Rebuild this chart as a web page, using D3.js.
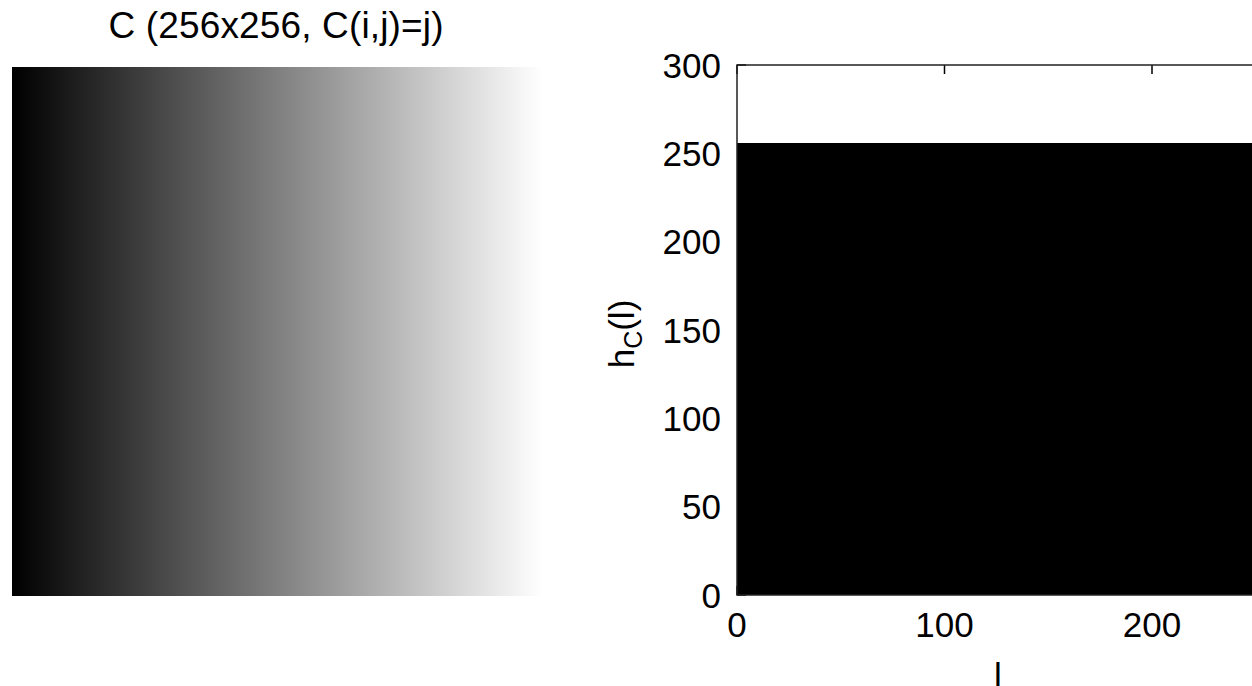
<!DOCTYPE html>
<html>
<head>
<meta charset="utf-8">
<script src="https://cdn.jsdelivr.net/npm/d3@7"></script>
<style>
  html, body { margin: 0; padding: 0; background: #fff; overflow: hidden; }
  svg { display: block; font-family: "Liberation Sans", Arial, sans-serif; }
</style>
</head>
<body>
<div id="chart"></div>
<script>
// grey levels of the image columns, C(i,j) = j
var levels = [
  0,1,2,3,4,5,6,7,8,9,10,11,12,13,14,15,
  16,17,18,19,20,21,22,23,24,25,26,27,28,29,30,31,
  32,33,34,35,36,37,38,39,40,41,42,43,44,45,46,47,
  48,49,50,51,52,53,54,55,56,57,58,59,60,61,62,63,
  64,65,66,67,68,69,70,71,72,73,74,75,76,77,78,79,
  80,81,82,83,84,85,86,87,88,89,90,91,92,93,94,95,
  96,97,98,99,100,101,102,103,104,105,106,107,108,109,110,111,
  112,113,114,115,116,117,118,119,120,121,122,123,124,125,126,127,
  128,129,130,131,132,133,134,135,136,137,138,139,140,141,142,143,
  144,145,146,147,148,149,150,151,152,153,154,155,156,157,158,159,
  160,161,162,163,164,165,166,167,168,169,170,171,172,173,174,175,
  176,177,178,179,180,181,182,183,184,185,186,187,188,189,190,191,
  192,193,194,195,196,197,198,199,200,201,202,203,204,205,206,207,
  208,209,210,211,212,213,214,215,216,217,218,219,220,221,222,223,
  224,225,226,227,228,229,230,231,232,233,234,235,236,237,238,239,
  240,241,242,243,244,245,246,247,248,249,250,251,252,253,254,255
];
// histogram counts h_C(l): every level occurs 256 times
var counts = [
  256,256,256,256,256,256,256,256,256,256,256,256,256,256,256,256,
  256,256,256,256,256,256,256,256,256,256,256,256,256,256,256,256,
  256,256,256,256,256,256,256,256,256,256,256,256,256,256,256,256,
  256,256,256,256,256,256,256,256,256,256,256,256,256,256,256,256,
  256,256,256,256,256,256,256,256,256,256,256,256,256,256,256,256,
  256,256,256,256,256,256,256,256,256,256,256,256,256,256,256,256,
  256,256,256,256,256,256,256,256,256,256,256,256,256,256,256,256,
  256,256,256,256,256,256,256,256,256,256,256,256,256,256,256,256,
  256,256,256,256,256,256,256,256,256,256,256,256,256,256,256,256,
  256,256,256,256,256,256,256,256,256,256,256,256,256,256,256,256,
  256,256,256,256,256,256,256,256,256,256,256,256,256,256,256,256,
  256,256,256,256,256,256,256,256,256,256,256,256,256,256,256,256,
  256,256,256,256,256,256,256,256,256,256,256,256,256,256,256,256,
  256,256,256,256,256,256,256,256,256,256,256,256,256,256,256,256,
  256,256,256,256,256,256,256,256,256,256,256,256,256,256,256,256,
  256,256,256,256,256,256,256,256,256,256,256,256,256,256,256,256
];
var xTicks = [0, 100, 200, 300];
var xTickLabels = [0, 100, 200];   // 300 lies past the right edge of the figure
var yTicks = [0, 50, 100, 150, 200, 250, 300];
var titleText = "C (256x256, C(i,j)=j)";

var W = 1252, H = 686;
var svg = d3.select("#chart").append("svg").attr("width", W).attr("height", H);

// ---- left: the image ----
var img = { left: 12, top: 67, width: 531, height: 529 };
var xi = d3.scaleBand().domain(levels).range([img.left, img.left + img.width]);
var grey = d3.scaleLinear().domain([0, 255]).range(["#000000", "#ffffff"]);

svg.append("g").selectAll("rect").data(levels).enter().append("rect")
  .attr("x", function (d) { return xi(d); })
  .attr("y", img.top)
  .attr("width", xi.bandwidth() + 0.6)
  .attr("height", img.height)
  .attr("fill", function (d) { return grey(d); })
  .attr("shape-rendering", "crispEdges");

svg.append("text")
  .attr("x", 276)
  .attr("y", 38)
  .attr("text-anchor", "middle")
  .attr("font-size", 37)
  .attr("textLength", 335)
  .attr("fill", "#000")
  .text(titleText);

// ---- right: histogram ----
var ax = { left: 737, top: 65, bottom: 595 };
var x = d3.scaleLinear().domain([0, 300]).range([ax.left, ax.left + 622.5]);
var y = d3.scaleLinear().domain([0, 300]).range([ax.bottom, ax.top]);

var plot = svg.append("g");
plot.append("clipPath").attr("id", "clip").append("rect")
  .attr("x", ax.left).attr("y", ax.top)
  .attr("width", x(300) - ax.left).attr("height", ax.bottom - ax.top);

// ticks (inside), drawn below the bars
var tk = plot.append("g").attr("stroke", "#000").attr("stroke-width", 1.5);
tk.selectAll(".yt").data(yTicks).enter().append("line")
  .attr("x1", ax.left).attr("x2", ax.left + 9)
  .attr("y1", function (d) { return y(d); }).attr("y2", function (d) { return y(d); });
tk.selectAll(".xt").data(xTicks).enter().append("line")
  .attr("x1", function (d) { return x(d); }).attr("x2", function (d) { return x(d); })
  .attr("y1", ax.top).attr("y2", ax.top + 9);
tk.selectAll(".xb").data(xTicks).enter().append("line")
  .attr("x1", function (d) { return x(d); }).attr("x2", function (d) { return x(d); })
  .attr("y1", ax.bottom).attr("y2", ax.bottom - 9);

plot.append("g").attr("clip-path", "url(#clip)")
  .selectAll("rect").data(levels).enter().append("rect")
  .attr("x", function (d) { return x(d - 0.5); })
  .attr("y", function (d, i) { return y(counts[i]); })
  .attr("width", x(1) - x(0) + 0.6)
  .attr("height", function (d, i) { return y(0) - y(counts[i]); })
  .attr("fill", "#000")
  .attr("shape-rendering", "crispEdges");

// axes frame
plot.append("rect")
  .attr("x", ax.left).attr("y", ax.top)
  .attr("width", x(300) - ax.left).attr("height", ax.bottom - ax.top)
  .attr("fill", "none").attr("stroke", "#222").attr("stroke-width", 1.5);

// tick labels
var lab = plot.append("g").attr("font-size", 35).attr("fill", "#000");
lab.selectAll(".yl").data(yTicks).enter().append("text")
  .attr("x", ax.left - 16)
  .attr("y", function (d) { return y(d); })
  .attr("dy", "0.36em")
  .attr("text-anchor", "end")
  .text(function (d) { return d; });
lab.selectAll(".xl").data(xTickLabels).enter().append("text")
  .attr("x", function (d) { return x(d); })
  .attr("y", ax.bottom + 42)
  .attr("text-anchor", "middle")
  .text(function (d) { return d; });

// axis labels
svg.append("text")
  .attr("x", 998)
  .attr("y", 688)
  .attr("text-anchor", "middle")
  .attr("font-size", 35)
  .text("l");

var yl = svg.append("text")
  .attr("transform", "translate(634,334) rotate(-90)")
  .attr("text-anchor", "middle")
  .attr("font-size", 35);
yl.append("tspan").text("h");
yl.append("tspan").attr("font-size", 25).attr("dy", 8).text("C");
yl.append("tspan").attr("dy", -8).text("(l)");
</script>
</body>
</html>
